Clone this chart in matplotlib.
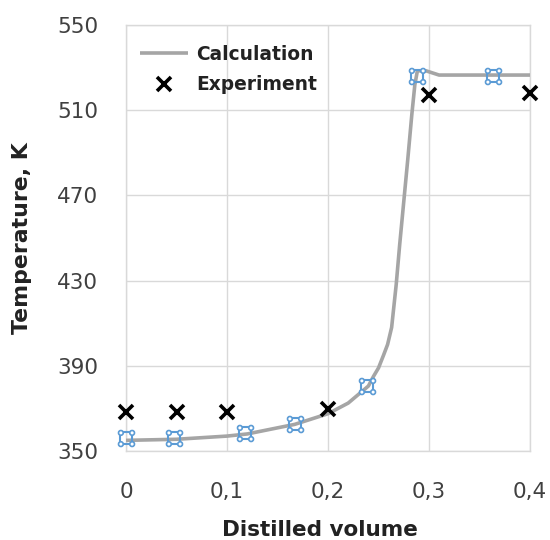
import matplotlib
matplotlib.use("Agg")
import matplotlib.pyplot as plt
from matplotlib.path import Path

# Calculation curve
calc_x = [0, 0.05, 0.10, 0.12, 0.167, 0.20, 0.22, 0.24, 0.245, 0.25, 0.255, 0.259,
          0.263, 0.2675, 0.271, 0.275, 0.279, 0.283, 0.286, 0.2885, 0.297, 0.31, 0.40]
calc_T = [355, 355.5, 357, 358, 362.5, 367.5, 372.5, 380.5, 385, 389, 395, 400,
          408, 428, 447, 467, 487, 508, 522, 528.5, 528.5, 526.5, 526.5]

# Calculation data points (selection handles)
point_x = [0, 0.0475, 0.118, 0.167, 0.2386, 0.288, 0.363]
point_T = [356, 356, 358.5, 362.7, 380.5, 526, 526]

# Experiment
exp_x = [0, 0.05, 0.10, 0.20, 0.30, 0.40]
exp_T = [368.5, 368.5, 368.5, 369.5, 517, 518]

x_ticks = [0, 0.1, 0.2, 0.3, 0.4]
x_labels = ["0", "0,1", "0,2", "0,3", "0,4"]
y_ticks = [350, 390, 430, 470, 510, 550]

plt.rcParams['font.family'] = ['DejaVu Sans']

fig = plt.figure(figsize=(5.5, 5.4), dpi=100)
ax = fig.add_axes([126/550, 1-451/540, 404/550, 426/540])

grid_c = '#D9D9D9'
ax.set_xlim(0, 0.4)
ax.set_ylim(350, 550)
ax.set_xticks(x_ticks)
ax.set_xticklabels(x_labels)
ax.set_yticks(y_ticks)
ax.grid(True, color=grid_c, linewidth=1)
ax.set_axisbelow(True)
for s in ax.spines.values():
    s.set_color(grid_c)
    s.set_linewidth(1)
ax.tick_params(length=0, labelsize=15.5, colors='#404040')
ax.tick_params(axis='y', pad=20)
ax.tick_params(axis='x', pad=22)

ax.plot(calc_x, calc_T, color='#A5A5A5', linewidth=2.6, label='Calculation',
        solid_capstyle='butt', solid_joinstyle='round', zorder=3)

# selection-handle style markers
blue = '#5B9BD5'
r = 0.42
ms_c = 11.5
ax.plot(point_x, point_T, linestyle='none', marker='s', markersize=ms_c / (1 + r),
        markerfacecolor='none', markeredgecolor=blue, markeredgewidth=1.5, zorder=4,
        clip_on=False)
circ = Path.make_compound_path(*[Path.circle((sx, sy), r) for sx in (-1, 1) for sy in (-1, 1)])
ax.plot(point_x, point_T, linestyle='none', marker=circ, markersize=ms_c,
        markerfacecolor='white', markeredgecolor=blue, markeredgewidth=1.2, zorder=5,
        clip_on=False)

ax.plot(exp_x, exp_T, linestyle='none', marker='x', markersize=9.5,
        markeredgewidth=2.6, color='black', label='Experiment', zorder=6,
        clip_on=False)

leg = ax.legend(loc='upper left', bbox_to_anchor=((140-126)/404, 1-(45-25)/426),
                frameon=False, borderpad=0, borderaxespad=0, handlelength=2.6,
                handletextpad=0.4, labelspacing=0.6,
                prop={'weight': 'bold', 'size': 13.4})
for t in leg.get_texts():
    t.set_color('#222222')

ax.set_ylabel('Temperature, K', fontsize=15.8, fontweight='bold', color='#222222')
ax.yaxis.set_label_coords((22-126)/404, 0.5)
ax.set_xlabel('Distilled volume', fontsize=15.5, fontweight='bold', color='#222222')
ax.xaxis.set_label_coords(0.481, (451-530)/426)
ax.xaxis.label.set_va('center')
ax.yaxis.label.set_va('center')

fig.savefig('out.png', dpi=100)
